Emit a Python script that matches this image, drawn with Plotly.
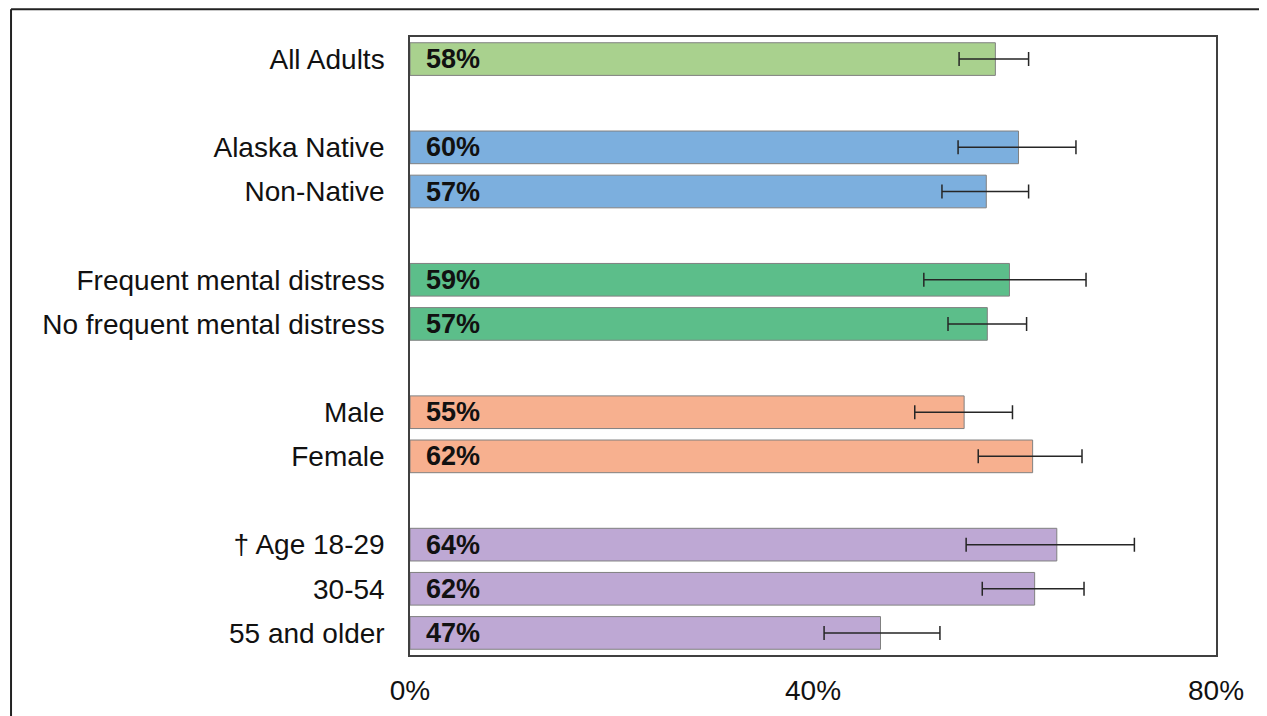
"""Horizontal bar chart with confidence intervals by population group."""

import plotly.graph_objects as go

# groups, top to bottom; empty strings mark the spacing rows between groups
categories = [
    "All Adults",
    "",
    "Alaska Native",
    "Non-Native",
    "",
    "Frequent mental distress",
    "No frequent mental distress",
    "",
    "Male",
    "Female",
    "",
    "† Age 18-29",
    "30-54",
    "55 and older",
]
values = [58.1, None, 60.4, 57.2, None, 59.5, 57.3, None, 55.0, 61.8, None, 64.2, 62.0, 46.7]
ci_low = [54.5, None, 54.4, 52.8, None, 51.0, 53.4, None, 50.1, 56.4, None, 55.2, 56.8, 41.1]
ci_high = [61.4, None, 66.1, 61.4, None, 67.1, 61.2, None, 59.8, 66.7, None, 71.9, 66.9, 52.6]
labels = ["58%", "", "60%", "57%", "", "59%", "57%", "", "55%", "62%", "", "64%", "62%", "47%"]
group_colors = {
    "all": "#A9D18E",
    "race": "#7CAFDE",
    "distress": "#5CBE8A",
    "sex": "#F7B08F",
    "age": "#BEA8D4",
}
groups = ["all", None, "race", "race", None, "distress", "distress", None,
          "sex", "sex", None, "age", "age", "age"]
x_ticks = [0, 40, 80]

# unique keys so the blank spacer rows stay separate categories
keys = [c if c else " " * (i + 1) for i, c in enumerate(categories)]
rows = [i for i, v in enumerate(values) if v is not None]

FONT = "Liberation Sans, Arial, sans-serif"

fig = go.Figure()
fig.add_trace(
    go.Bar(
        x=[values[i] for i in rows],
        y=[keys[i] for i in rows],
        orientation="h",
        width=0.74,
        marker={
            "color": [group_colors[groups[i]] for i in rows],
            "line": {"color": "#808080", "width": 1},
        },
        error_x={
            "type": "data",
            "symmetric": False,
            "array": [ci_high[i] - values[i] for i in rows],
            "arrayminus": [values[i] - ci_low[i] for i in rows],
            "color": "#262626",
            "thickness": 1.5,
            "width": 7,
        },
        hoverinfo="skip",
        showlegend=False,
    )
)

# bold percentage labels at the start of each bar
for i in rows:
    fig.add_annotation(
        x=0,
        y=keys[i],
        text=f"<b>{labels[i]}</b>",
        xanchor="left",
        xshift=14,
        showarrow=False,
        font={"family": FONT, "size": 27, "color": "#111111"},
    )

# page body has an 8px margin, so the figure is sized/offset to compensate
fig.update_layout(
    width=1259,
    height=708,
    paper_bgcolor="white",
    plot_bgcolor="white",
    margin={"l": 402, "r": 51, "t": 29, "b": 61, "autoexpand": False},
    xaxis={
        "range": [0, 80],
        "tickvals": x_ticks,
        "ticktext": [f"{t}%" for t in x_ticks],
        "showgrid": False,
        "zeroline": False,
        "showline": True,
        "linecolor": "#404040",
        "linewidth": 1.5,
        "mirror": True,
        "ticks": "",
        "automargin": False,
        "ticklabelstandoff": 10,
        "tickfont": {"family": FONT, "size": 28, "color": "#111111"},
    },
    yaxis={
        "type": "category",
        "categoryorder": "array",
        "categoryarray": keys,
        "autorange": "reversed",
        "tickvals": keys,
        "ticktext": categories,
        "showgrid": False,
        "showline": True,
        "linecolor": "#404040",
        "linewidth": 1.5,
        "mirror": True,
        "ticks": "",
        "automargin": False,
        "ticklabelstandoff": 18,
        "tickfont": {"family": FONT, "size": 28, "color": "#111111"},
    },
)

# outer frame: only the left and top edges fall inside the picture
frame = {"color": "#222222", "width": 2}
fig.add_shape(type="line", xref="paper", yref="paper",
              x0=-0.495, x1=-0.495, y0=-0.14, y1=1.045, line=frame)
fig.add_shape(type="line", xref="paper", yref="paper",
              x0=-0.495, x1=1.09, y0=1.045, y1=1.045, line=frame)

fig.write_html("out.html")
